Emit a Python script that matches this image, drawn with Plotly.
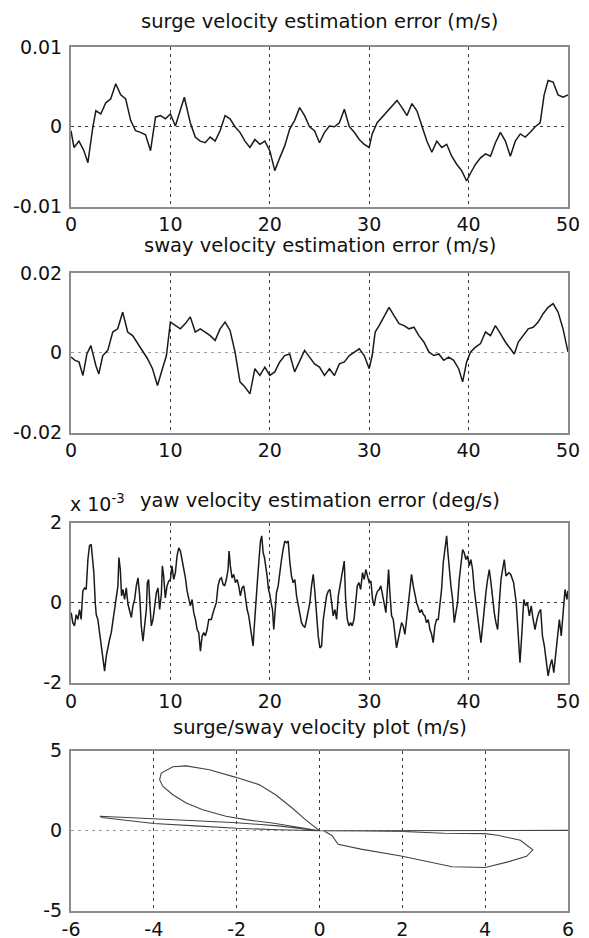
import numpy as np
import plotly.graph_objects as go

# ---------------- data ----------------
surge_t = [0,0.3,0.8,1.3,1.7,2.2,2.5,3,3.5,4,4.5,5,5.5,6,6.5,7,7.5,8,8.5,9,9.5,10,10.5,11,11.4,12,12.5,13,13.5,14,
           14.5,15,15.5,16,16.5,17,17.5,18,18.5,19,19.5,20,20.5,21,21.5,22,22.5,23,23.5,24,24.5,25,25.5,26,26.5,27,
           27.5,28,28.5,29,29.5,30,30.3,30.8,31.3,31.8,32.3,32.8,33.3,33.8,34.3,34.8,35.3,35.8,36.3,36.8,37.3,37.8,
           38.3,38.8,39.3,39.8,40.2,40.7,41.2,41.7,42.2,42.7,43.2,43.7,44.2,44.7,45.2,45.7,46.2,46.7,47.2,47.6,48,
           48.5,49,49.5,50]
surge_err_e3 = [-0.5,-2.6,-1.8,-3.0,-4.5,0,2.0,1.6,3.0,3.5,5.4,4.0,3.5,0.8,-0.5,-0.7,-1.0,-3.0,1.2,1.4,1.0,1.6,0.1,
                2.0,3.7,0.5,-1.3,-1.8,-2.0,-1.3,-1.8,-0.5,1.4,1.0,0,-0.7,-1.8,-2.6,-1.6,-2.2,-1.8,-3.0,-5.5,-3.9,
                -2.4,-0.3,0.8,2.4,1.4,0,-0.5,-2.0,-0.7,0.1,0,0.5,2.2,0,-0.7,-1.6,-2.2,-2.6,-0.9,0.5,1.2,1.8,2.6,3.3,
                2.4,1.4,2.9,2.0,0.1,-1.8,-3.2,-1.8,-2.6,-2.2,-3.7,-4.7,-5.5,-6.8,-5.8,-4.7,-3.9,-3.4,-3.7,-2.0,-0.7,
                -1.8,-3.7,-1.8,-0.9,-1.3,-0.7,0,0.5,4.0,5.8,5.6,4.0,3.7,4.0]

sway_t = [0,0.4,0.8,1.2,1.6,2,2.5,2.8,3.2,3.7,4.2,4.7,5.2,5.7,6.2,6.7,7.2,7.7,8.2,8.7,9.2,9.6,10,10.5,11,11.5,12,
          12.5,13,13.5,14,14.5,15,15.5,16,16.5,17,17.5,18,18.5,19,19.5,20,20.5,21,21.5,22,22.5,23,23.5,24,24.5,25,
          25.5,26,26.5,27,27.5,28,28.5,29,29.5,30,30.3,30.6,31,31.5,32,32.5,33,33.5,34,34.5,35,35.5,36,36.5,37,37.5,
          38,38.5,39,39.4,39.8,40.2,40.7,41.2,41.7,42.2,42.7,43.2,43.7,44.2,44.6,45,45.5,46,46.5,47,47.5,48,48.5,
          49,49.5,50]
sway_err_e3 = [-1.1,-1.9,-2.3,-5.7,-0.3,1.8,-3.2,-5.3,-0.7,0.6,5.2,6.0,10.2,5.2,4.3,2.3,0.2,-1.5,-4.0,-8.2,-4.0,-0.7,
               7.7,6.8,6.0,7.3,9.0,5.2,6.0,5.2,4.3,3.1,6.0,7.7,5.6,0.2,-7.3,-8.6,-10.3,-4.0,-5.7,-3.6,-5.7,-4.8,-2.3,
               -0.7,-0.3,-4.8,-1.9,0.6,-1.1,-2.8,-3.6,-5.7,-4.0,-5.7,-2.8,-2.3,-0.7,0.2,1.0,-0.7,-4.0,-0.7,5.2,6.8,
               9.3,11.4,9.3,7.3,6.8,6.0,6.4,4.3,2.7,0.2,-0.7,-0.3,-1.9,-1.1,-1.9,-4.0,-7.3,-2.3,0.2,1.4,2.3,5.2,4.3,
               6.8,4.8,2.7,1.0,-0.3,2.7,4.3,6.0,6.4,7.7,9.8,11.4,12.3,10.2,6.0,0.2]

yaw_t = [0.02,0.18,0.35,0.52,0.69,0.86,1.02,1.19,1.36,1.53,1.70,1.86,2.03,2.20,2.30,2.44,2.54,2.70,2.87,3.04,
         3.21,3.38,3.55,3.71,3.88,4.05,4.22,4.39,4.55,4.72,4.82,4.96,5.09,5.23,5.39,5.56,5.73,5.90,6.07,6.23,
         6.40,6.57,6.74,6.91,7.07,7.24,7.41,7.58,7.68,7.81,7.91,8.08,8.25,8.42,8.59,8.75,8.92,9.09,9.19,9.32,
         9.49,9.66,9.83,10.00,10.16,10.33,10.50,10.67,10.84,11.01,11.17,11.34,11.51,11.68,11.85,12.01,12.18,12.35,12.52,12.69,
         12.85,13.02,13.19,13.36,13.52,13.69,13.86,
         14.12,14.29,14.46,14.62,14.79,14.96,15.13,15.30,15.46,15.63,15.80,15.90,16.03,16.20,16.37,16.54,16.71,16.87,
         17.04,17.21,17.38,17.55,17.72,17.88,18.05,18.22,18.32,18.42,18.56,18.72,18.89,19.06,19.19,19.33,19.46,19.60,
         19.73,19.87,20.00,20.13,20.27,20.40,20.54,20.67,20.84,21.01,21.18,21.34,21.51,21.68,21.85,22.02,22.18,22.35,
         22.52,22.69,22.86,23.02,23.19,23.36,23.53,23.70,23.86,24.03,24.20,24.37,24.54,24.70,24.87,25.04,25.21,25.38,
         25.54,25.71,25.88,26.05,26.22,26.38,26.55,26.72,26.89,27.06,27.22,27.39,27.49,27.63,27.80,27.96,28.13,28.29,
         28.47,28.64,28.80,28.97,29.14,
         29.33,29.50,29.66,29.83,30.0,30.17,30.34,30.50,30.67,30.84,31.01,31.17,31.34,31.51,31.68,31.85,31.95,32.08,
         32.25,32.42,32.58,32.75,32.92,33.09,33.26,33.42,33.59,33.76,33.93,34.09,34.26,34.43,34.60,34.77,34.93,35.10,
         35.27,35.44,35.60,35.77,35.94,36.11,36.28,36.44,36.61,36.78,36.95,37.11,37.28,37.45,37.62,37.79,37.92,38.05,
         38.22,38.39,38.56,38.72,38.89,39.06,39.23,39.40,39.56,39.73,39.90,40.07,40.23,40.40,40.57,40.74,40.91,41.07,
         41.24,41.41,41.58,41.74,41.91,42.08,42.25,42.42,42.58,42.75,42.92,43.09,43.26,43.42,43.59,43.76,
         44.04,44.23,44.53,44.79,44.98,45.17,45.36,45.55,45.74,45.92,46.11,46.30,46.49,46.68,46.87,47.06,47.25,47.43,
         47.62,47.81,48.0,48.19,48.38,48.57,48.75,48.94,49.13,49.32,49.51,49.70,49.89,50.0]
yaw_err_e3 = [-0.25,-0.5,-0.58,-0.3,-0.42,-0.17,-0.42,0.29,0.37,0.33,1.08,1.42,1.46,1.0,0.75,0,-0.3,-0.42,-0.75,-1.08,
              -1.42,-1.71,-1.33,-1.08,-0.92,-0.75,-0.42,-0.17,0.17,0.42,1.13,0.83,0.17,0.33,0.08,0.37,-0.04,-0.25,-0.37,-0.08,
              0.08,0.42,0.62,0.17,-0.58,-0.96,-0.58,-0.17,0.5,0.58,0.08,-0.58,-0.42,0,0.25,0.37,-0.17,0.21,0.92,0.67,
              0.12,0.42,0.54,0.58,0.92,0.58,0.75,1.17,1.37,1.29,1.08,0.83,0.62,0.29,0.08,-0.08,0.08,-0.25,-0.42,-0.67,
              -0.75,-1.21,-0.83,-0.75,-0.83,-0.67,-0.42,
              -0.42,-0.25,-0.12,0,0.42,0.58,0.62,0.46,0.42,0.58,0.83,1.29,0.92,0.62,0.71,0.5,0.58,0.42,0.17,0.37,0.42,0.08,
              -0.17,-0.33,-0.58,-0.83,-1.08,-0.67,0,0.42,1.0,1.54,1.67,1.25,1.13,0.92,0.67,0.33,0.21,0,-0.17,-0.67,-0.25,
              0.25,0.42,0.83,1.08,1.33,1.54,1.5,1.54,1.0,0.67,0.5,0.58,0.17,-0.08,-0.33,-0.5,-0.58,-0.62,-0.42,-0.17,0,
              0.42,0.71,0.25,-0.42,-0.83,-1.13,-1.08,-0.42,-0.08,0.17,0.29,0.33,0,-0.33,-0.17,-0.42,0.17,0.42,0.67,1.0,
              1.04,0.08,-0.42,-0.58,-0.5,-0.58,-0.42,0,0.42,0.5,0.33,
              0.75,0.58,0.83,0.67,0.5,0.54,0.08,-0.08,0.17,0.29,0.33,0.42,0.17,-0.08,-0.25,0.42,0.83,0.25,-0.33,-0.42,
              -0.75,-1.13,-0.92,-0.67,-0.5,-0.58,-0.79,-0.42,0,0.29,0.71,0.42,0.17,0,-0.12,-0.25,-0.17,-0.29,-0.33,-0.5,
              -0.42,-0.67,-0.79,-1.0,-0.58,-0.42,-0.42,0,0.33,1.0,1.33,1.67,1.25,0.83,0.42,0.08,-0.5,-0.25,0,0.58,
              1.0,1.33,1.25,1.08,1.17,0.92,1.08,0.83,0.33,0,-0.33,-0.67,-1.0,-0.58,-0.08,0.25,0.58,0.83,0.5,0.08,
              -0.25,-0.5,-0.67,0,0.58,0.83,1.08,0.67,
              0.75,0.71,0.5,0,-0.75,-1.5,-0.75,0.08,-0.08,0,-0.33,-0.08,-0.42,-0.67,-0.42,-0.25,-0.17,-0.83,
              -1.08,-1.42,-1.83,-1.58,-1.42,-1.75,-1.33,-1.0,-0.42,-0.83,-0.17,0.33,0.08,0.3]

surge_vel = [6.0,4.0,2.0,0.5,0.1,0.3,0.45,1.0,2.0,3.2,4.0,4.55,5.0,5.15,4.85,4.3,4.0,3.0,2.6,2.0,1.0,0.0,
             -0.34,-0.66,-1.06,-1.46,-2.04,-2.66,-3.22,-3.54,-3.82,-3.86,-3.78,-3.54,-3.22,-2.82,-2.26,-1.78,-1.14,-0.5,0.0,
             -1.0,-2.0,-3.0,-4.0,-4.6,-5.3,-5.25,-4.0,-3.0,-2.0,-1.0,0.0]
sway_vel = [0.02,0.02,0.02,0.02,0.0,-0.3,-0.85,-1.15,-1.6,-2.25,-2.3,-1.95,-1.6,-1.2,-0.6,-0.28,-0.18,-0.16,-0.1,-0.05,-0.02,0.0,
            0.69,1.42,2.25,2.88,3.35,3.81,4.05,4.0,3.6,3.19,2.77,2.25,1.73,1.31,0.9,0.69,0.48,0.21,0.0,
            0.3,0.5,0.62,0.75,0.85,0.9,0.82,0.45,0.3,0.15,0.06,0.0]

titles = ["surge velocity estimation error (m/s)", "sway velocity estimation error (m/s)",
          "yaw velocity estimation error (deg/s)", "surge/sway velocity plot (m/s)"]
time_ticks = [0, 10, 20, 30, 40, 50]

# ---------------- figure ----------------
OFF = 8                      # page body margin of the html output
W, H = 589 - OFF, 938 - OFF
FONT = "DejaVu Sans"
FS_T = 19.5
FS = 19
LINE = "#1a1a1a"

def yf(py):
    return 1 - (py - OFF) / H

def xf(px):
    return (px - OFF) / W

x_dom = [xf(71), xf(568)]
panels = [(47, 206.5), (273, 432.5), (522.7, 682.7), (750.7, 910.7)]
title_y = [21, 245, 500, 727]
ygrid_colors = ["#3a3a3a", "#9a9a9a", "#3a3a3a", "#9a9a9a"]

fig = go.Figure()
fig.add_trace(go.Scatter(x=surge_t, y=np.array(surge_err_e3) * 1e-3, mode="lines",
                         line=dict(color=LINE, width=1.5), xaxis="x", yaxis="y"))
fig.add_trace(go.Scatter(x=sway_t, y=np.array(sway_err_e3) * 1e-3, mode="lines",
                         line=dict(color=LINE, width=1.5), xaxis="x2", yaxis="y2"))
fig.add_trace(go.Scatter(x=yaw_t, y=yaw_err_e3, mode="lines",
                         line=dict(color=LINE, width=1.5), xaxis="x3", yaxis="y3"))
fig.add_trace(go.Scatter(x=surge_vel, y=sway_vel, mode="lines",
                         line=dict(color="#444444", width=1.1), xaxis="x4", yaxis="y4"))

axis_common = dict(showline=True, mirror=True, linecolor="#8c8c8c", linewidth=2,
                   showgrid=True, gridcolor="#3a3a3a", gridwidth=1, griddash="3px,4px",
                   zeroline=False, ticks="", automargin=False,
                   tickfont=dict(family=FONT, size=FS, color="#111"),
                   fixedrange=True)

y_specs = [
    dict(range=[-0.01, 0.01], tickvals=[-0.01, 0, 0.01], ticktext=["-0.01", "0", "0.01"]),
    dict(range=[-0.02, 0.02], tickvals=[-0.02, 0, 0.02], ticktext=["-0.02", "0", "0.02"]),
    dict(range=[-2, 2], tickvals=[-2, 0, 2], ticktext=["-2", "0", "2"]),
    dict(range=[-5, 5], tickvals=[-5, 0, 5], ticktext=["-5", "0", "5"]),
]
x_specs = [
    dict(range=[0, 50], tickvals=time_ticks),
    dict(range=[0, 50], tickvals=time_ticks),
    dict(range=[0, 50], tickvals=time_ticks),
    dict(range=[-6, 6], tickvals=[-6, -4, -2, 0, 2, 4, 6], ticktext=["-6", "-4", "-2", "0", "2", "4", "6"]),
]

layout = dict(width=W, height=H, margin=dict(l=0, r=0, t=0, b=0, pad=0), showlegend=False,
              paper_bgcolor="white", plot_bgcolor="white", font=dict(family=FONT, size=FS, color="#111"))
for i, ((top, bot), xs, ys, gc) in enumerate(zip(panels, x_specs, y_specs, ygrid_colors), start=1):
    sfx = "" if i == 1 else str(i)
    layout["xaxis" + sfx] = dict(axis_common, domain=x_dom, anchor="y" + sfx, ticklabelstandoff=0, **xs)
    yax = dict(axis_common, domain=[yf(bot), yf(top)], anchor="x" + sfx, ticklabelstandoff=3, **ys)
    yax["gridcolor"] = gc
    layout["yaxis" + sfx] = yax
fig.update_layout(**layout)

cx = (x_dom[0] + x_dom[1]) / 2
for t, ty in zip(titles, title_y):
    fig.add_annotation(text=t, x=cx, y=yf(ty), xref="paper", yref="paper", xanchor="center",
                       yanchor="middle", showarrow=False, font=dict(family=FONT, size=FS_T, color="#111"))
fig.add_annotation(text="x 10<sup>-3</sup>", x=xf(68), y=yf(503), xref="paper", yref="paper",
                   xanchor="left", yanchor="middle", showarrow=False,
                   font=dict(family=FONT, size=FS, color="#111"))

fig.write_html("out.html")
